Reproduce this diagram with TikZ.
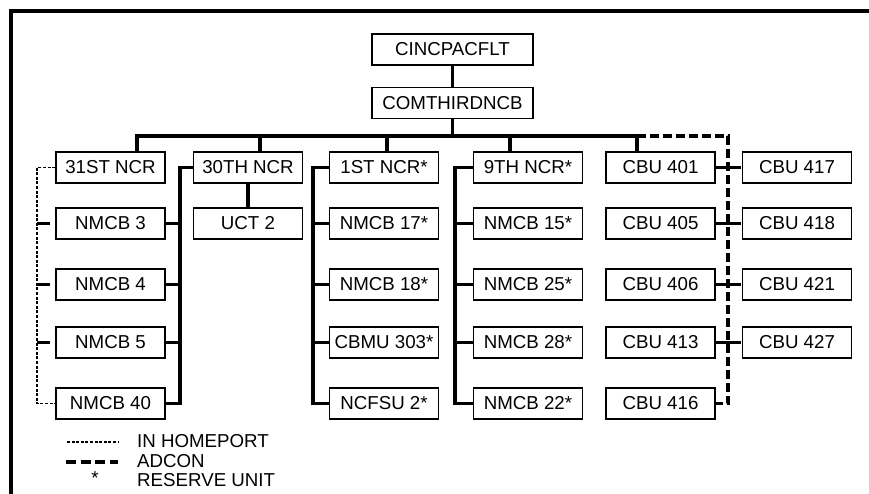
\documentclass[tikz,border=0pt]{standalone}
\usepackage{fontspec}
\setmainfont{Liberation Sans}
\begin{document}
\begin{tikzpicture}[x=1pt,y=-1pt,
        unit/.style={rectangle,draw,line width=1.6pt,minimum width=109pt,minimum height=31pt,inner sep=0pt,font=\fontsize{18.7}{20}\selectfont},
        link/.style={line width=3.2pt},
        adcon/.style={line width=3.2pt,dash pattern=on 9pt off 4pt},
        stub/.style={line width=3.2pt,dash pattern=on 13pt off 6pt},
        homeport/.style={line width=1.3pt,dash pattern=on 3pt off 1.6pt},
        legend/.style={font=\fontsize{18.7}{20}\selectfont,anchor=west,inner sep=0pt}]
        \useasboundingbox (0,0) rectangle (869,494);
        \draw[line width=3.5pt] (11,494) -- (11,11) -- (869,11);
        % top of the chain
        \node[unit,minimum width=161pt] at (452.5,49.5) (cinc) {CINCPACFLT};
        \node[unit,minimum width=161pt] at (452.5,103) (com) {COMTHIRDNCB};
        % first row
        \node[unit] at (110.5,167.5) (ncr31) {31ST NCR};
        \node[unit] at (248,167.5) (ncr30) {30TH NCR};
        \node[unit] at (384,167.5) (ncr1) {1ST NCR*};
        \node[unit] at (528,167.5) (ncr9) {9TH NCR*};
        \node[unit] at (660.5,167.5) (cbu401) {CBU 401};
        \node[unit] at (797,167.5) (cbu417) {CBU 417};
        % second row
        \node[unit] at (110.5,223.5) (nmcb3) {NMCB 3};
        \node[unit] at (248,223.5) (uct2) {UCT 2};
        \node[unit] at (384,223.5) (nmcb17) {NMCB 17*};
        \node[unit] at (528,223.5) (nmcb15) {NMCB 15*};
        \node[unit] at (660.5,223.5) (cbu405) {CBU 405};
        \node[unit] at (797,223.5) (cbu418) {CBU 418};
        % third row
        \node[unit] at (110.5,284.5) (nmcb4) {NMCB 4};
        \node[unit] at (384,284.5) (nmcb18) {NMCB 18*};
        \node[unit] at (528,284.5) (nmcb25) {NMCB 25*};
        \node[unit] at (660.5,284.5) (cbu406) {CBU 406};
        \node[unit] at (797,284.5) (cbu421) {CBU 421};
        % fourth row
        \node[unit] at (110.5,342.5) (nmcb5) {NMCB 5};
        \node[unit] at (384,342.5) (cbmu303) {CBMU 303*};
        \node[unit] at (528,342.5) (nmcb28) {NMCB 28*};
        \node[unit] at (660.5,342.5) (cbu413) {CBU 413};
        \node[unit] at (797,342.5) (cbu427) {CBU 427};
        % fifth row
        \node[unit] at (110.5,403.5) (nmcb40) {NMCB 40};
        \node[unit] at (384,403.5) (ncfsu2) {NCFSU 2*};
        \node[unit] at (528,403.5) (nmcb22) {NMCB 22*};
        \node[unit] at (660.5,403.5) (cbu416) {CBU 416};
        % bus under COMTHIRDNCB
        \coordinate (b31) at (137,136);
        \coordinate (b30) at (260,136);
        \coordinate (b1) at (387,136);
        \coordinate (b9) at (510,136);
        \coordinate (b401) at (637,136);
        \coordinate (bad) at (728,136);
        \draw[link] (cinc) -- (com);
        \draw[link] (com.south) -- (com.south |- b31);
        \draw[link] (b31 |- ncr31.north) -- (b31) -- (b401) -- (b401 |- cbu401.north);
        \foreach \c/\n in {b30/ncr30,b1/ncr1,b9/ncr9}
            \draw[link] (\c) -- (\c |- \n.north);
        % CBU group
        \draw[adcon] (b401) -- (bad) |- (cbu416.east);
        \foreach \n in {cbu401,cbu405,cbu406,cbu413}
            \draw[stub] (\n.east) -- (\n.east -| bad);
        \foreach \n in {cbu417,cbu418,cbu421,cbu427}
            \draw[stub] (\n.west -| bad) -- (\n.west);
        % 30TH NCR
        \coordinate (v30) at (180,0);
        \draw[link] (ncr30.west) -- (ncr30.west -| v30) |- (nmcb40.east);
        \foreach \n in {nmcb3,nmcb4,nmcb5}
            \draw[link] (\n.east) -- (\n.east -| v30);
        \draw[link] (ncr30) -- (uct2);
        % 31ST NCR
        \coordinate (v31) at (37,0);
        \draw[homeport] (ncr31.west) -- (ncr31.west -| v31) |- (nmcb40.west);
        \foreach \n in {nmcb3,nmcb4,nmcb5}
            \draw[stub] (\n.west -| v31) -- (\n.west);
        % 1ST NCR
        \coordinate (v1) at (313,0);
        \draw[link] (ncr1.west) -- (ncr1.west -| v1) |- (ncfsu2.west);
        \foreach \n in {nmcb17,nmcb18,cbmu303}
            \draw[link] (\n.west) -- (\n.west -| v1);
        % 9TH NCR
        \coordinate (v9) at (455,0);
        \draw[link] (ncr9.west) -- (ncr9.west -| v9) |- (nmcb22.west);
        \foreach \n in {nmcb15,nmcb25,nmcb28}
            \draw[link] (\n.west) -- (\n.west -| v9);
        % legend
        \coordinate (hpa) at (67,442);
        \coordinate (hpb) at (118,442);
        \coordinate (ada) at (66,462);
        \coordinate (adb) at (118,462);
        \draw[homeport] (hpa) -- (hpb);
        \draw[adcon,dash pattern=on 10pt off 4.5pt] (ada) -- (adb);
        \node[legend] at (137,441.5) (hptext) {IN HOMEPORT};
        \node[legend] at (137,461) (adtext) {ADCON};
        \node[anchor=base,inner sep=0pt,font=\fontsize{18.7}{20}\selectfont] at (95,484) (star) {*};
        \node[legend] at (137,480) (rutext) {RESERVE UNIT};
    \end{tikzpicture}
\end{document}
